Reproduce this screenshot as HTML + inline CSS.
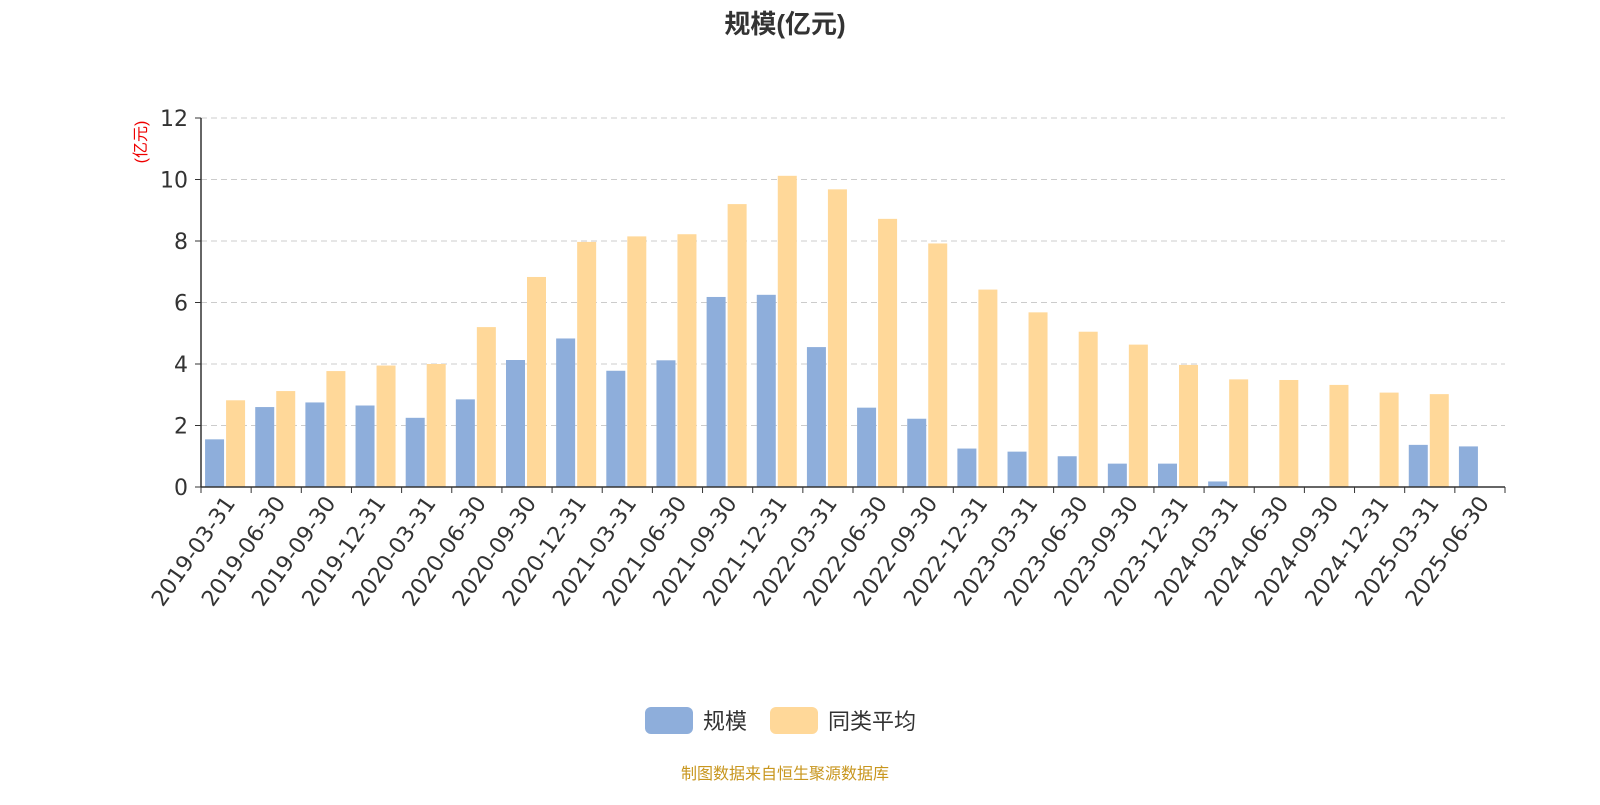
<!DOCTYPE html>
<html><head><meta charset="utf-8"><style>
body{margin:0;background:#fff;font-family:"Liberation Sans","Noto Sans CJK SC",sans-serif;}
</style></head><body>
<svg id="chart" width="1600" height="800" xmlns="http://www.w3.org/2000/svg" style="font-family:'Liberation Sans','Noto Sans CJK SC',sans-serif">
<text x="785" y="33" text-anchor="middle" font-size="26" font-weight="bold" fill="#333">规模(亿元)</text>
<text transform="translate(146,142) rotate(-90)" text-anchor="middle" font-size="16" fill="#e00">(亿元)</text>
<g id="grid"></g><g id="bars"></g><g id="axes"></g>
<g>
<g><rect x="645" y="707" width="48" height="27" rx="6" fill="#8eaedb"/><text x="703" y="729" font-size="22" fill="#333">规模</text></g>
<g><rect x="770" y="707" width="48" height="27" rx="6" fill="#ffd899"/><text x="828" y="729" font-size="22" fill="#333">同类平均</text></g>
</g>
<text x="785" y="779" text-anchor="middle" font-size="16" fill="#c8961e">制图数据来自恒生聚源数据库</text>
</svg>
<script>
const categories=["2019-03-31","2019-06-30","2019-09-30","2019-12-31","2020-03-31","2020-06-30","2020-09-30","2020-12-31","2021-03-31","2021-06-30","2021-09-30","2021-12-31","2022-03-31","2022-06-30","2022-09-30","2022-12-31","2023-03-31","2023-06-30","2023-09-30","2023-12-31","2024-03-31","2024-06-30","2024-09-30","2024-12-31","2025-03-31","2025-06-30"];
const scaleValues=[1.55,2.6,2.75,2.65,2.25,2.85,4.13,4.83,3.78,4.12,6.18,6.25,4.55,2.58,2.22,1.25,1.15,1.0,0.76,0.76,0.18,0,0,0,1.37,1.32];
const avgValues=[2.82,3.12,3.77,3.95,4.0,5.2,6.83,7.97,8.15,8.22,9.2,10.12,9.68,8.72,7.92,6.42,5.68,5.05,4.63,3.97,3.5,3.48,3.32,3.07,3.02,null];
const yTicks=[0,2,4,6,8,10,12];
const NS="http://www.w3.org/2000/svg";
const X0=201,X1=1505,Y0=487,Y1=118,YMAX=12;
const TF="'DejaVu Sans','Liberation Sans',sans-serif";
const bw=(X1-X0)/categories.length;
const y=v=>Y0-(v/YMAX)*(Y0-Y1);
const mk=(t,a,p)=>{const e=document.createElementNS(NS,t);for(const k in a)e.setAttribute(k,a[k]);p.appendChild(e);return e;};
const grid=document.getElementById('grid'),bars=document.getElementById('bars'),axes=document.getElementById('axes');
yTicks.forEach(t=>{
 if(t>0){const l=mk('line',{x1:X0,x2:X1,y1:y(t),y2:y(t),stroke:'#ccc','stroke-dasharray':'6,4'},grid);
 
 }
 const tk=mk('line',{x1:X0-6,x2:X0,y1:y(t),y2:y(t),stroke:'#333'},axes);
 
 
 const tx=mk('text',{x:X0-13,y:y(t)+8,'text-anchor':'end','font-size':22,'font-family':TF,fill:'#333'},axes);tx.textContent=t;
 
 
});
categories.forEach((c,i)=>{
 const cx=X0+bw*(i+0.5);
 if(scaleValues[i]!=null&&scaleValues[i]>0){const r=mk('rect',{x:cx-21,y:y(scaleValues[i]),width:19,height:Y0-y(scaleValues[i]),fill:'#8eaedb'},bars);
 
 }
 if(avgValues[i]!=null){const r=mk('rect',{x:cx,y:y(avgValues[i]),width:19,height:Y0-y(avgValues[i]),fill:'#ffd899'},bars);
 
 }
 const tk=mk('line',{x1:X0+bw*i,x2:X0+bw*i,y1:Y0,y2:Y0+6,stroke:'#333'},axes);
 
 
 const tx=mk('text',{transform:`translate(${cx+10},${Y0+16}) rotate(-55)`,'text-anchor':'end','font-size':22,'font-family':TF,fill:'#333'},axes);tx.textContent=c;
 
 
});
mk('line',{x1:X1,x2:X1,y1:Y0,y2:Y0+6,stroke:'#333'},axes);
const ya=mk('line',{x1:X0,x2:X0,y1:Y1,y2:Y0,stroke:'#333','stroke-width':1.5},axes);


const xa=mk('line',{x1:X0,x2:X1,y1:Y0,y2:Y0,stroke:'#333','stroke-width':1.5},axes);


</script>
</body></html>
